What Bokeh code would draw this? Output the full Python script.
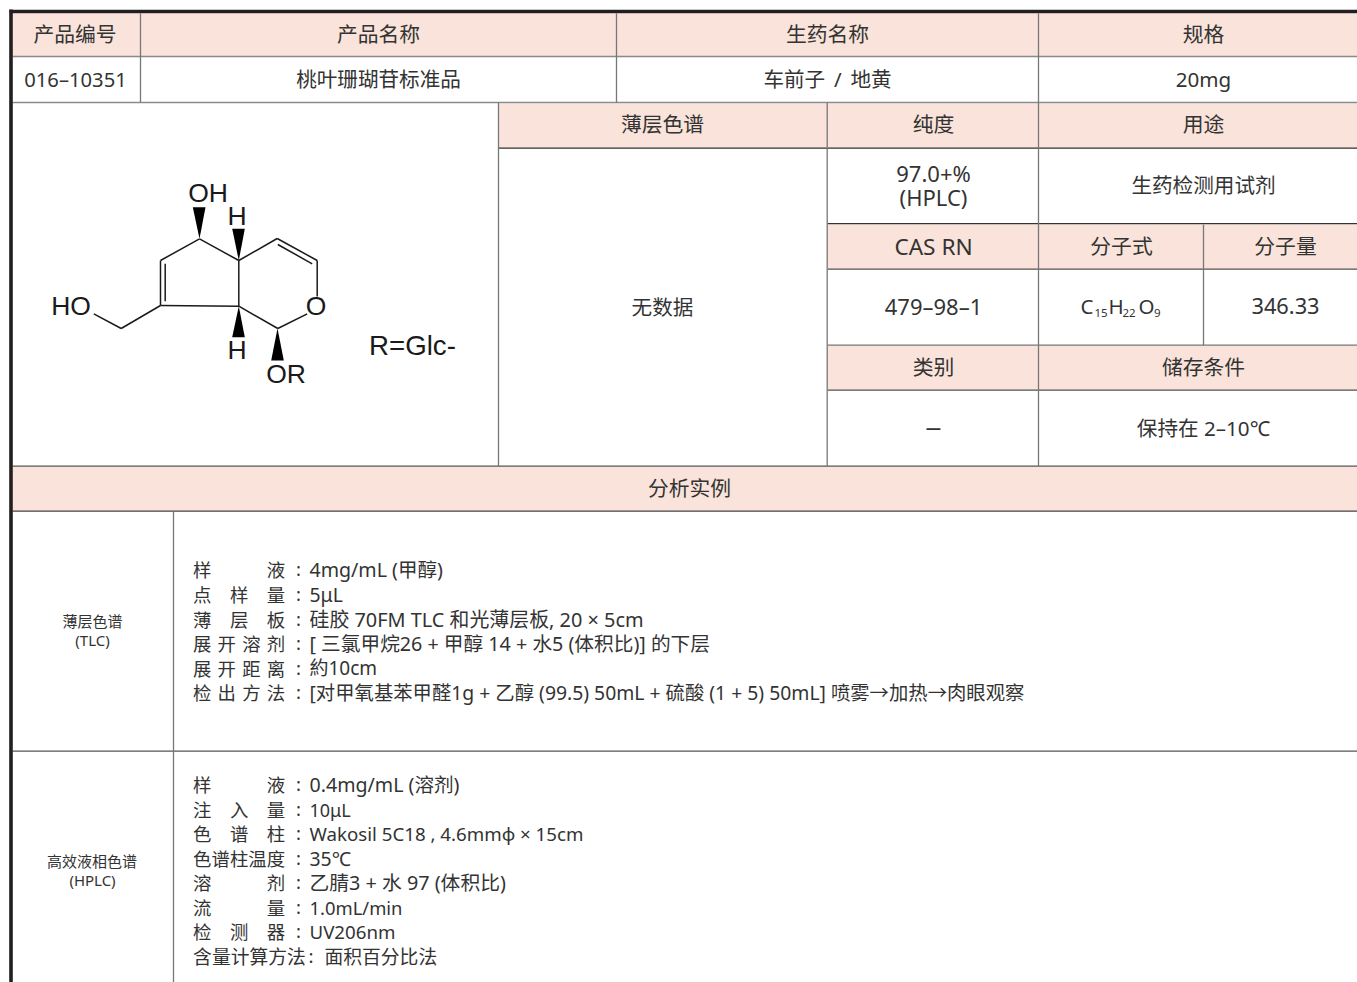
from bokeh.plotting import figure
from bokeh.models import Range1d
from bokeh.core.properties import value
from bokeh.embed import file_html
from bokeh.resources import INLINE

FONT = "'Noto Sans', 'Noto Sans CJK SC'"
SP = "\u2004"   # three-per-em
ID = "\u3000"

head_text = ["产品编号", "产品名称", "生药名称", "规格", "薄层色谱", "纯度", "用途", "CAS RN", "分子式", "分子量", "类别", "储存条件", "分析实例"]
head_x = [74.5, 378, 827, 1203, 662, 933, 1203, 933, 1121, 1285, 933, 1203, 689]
head_y = [33.7, 33.7, 33.7, 33.7, 123.7, 123.7, 123.7, 245.5, 245.7, 245.7, 366.7, 366.7, 487.7]
head_sizes = [20.8] * 7 + [22.6] + [20.8] * 5

cell_text = ["016–10351", "桃叶珊瑚苷标准品", "车前子\u2006 / \u2006地黄", "20mg", "97.0+%", "(HPLC)", "生药检测用试剂", "无数据", "479–98–1", "346.33", "保持在 2–10℃"]
cell_x = [75, 378, 827, 1203, 933, 933, 1203, 662, 933, 1285, 1203]
cell_y = [78.7, 78.7, 78.7, 78.5, 172, 196, 184.7, 306.7, 305.2, 305.2, 427.7]
cell_sizes = [20.2, 20.6, 20.6, 20.6, 22, 22, 20.6, 20.6, 22, 21.8, 20.6]
dash_text = ["–"]
dash_x = [933]
dash_y = [426.5]

side_text = ["薄层色谱", "(TLC)", "高效液相色谱", "(HPLC)"]
side_x = [92, 92, 91.5, 92]
side_y = [620.8, 639, 860.8, 879]

tlc_labels = ["样" + ID * 3 + "液", "点" + ID + "样" + ID + "量", "薄" + ID + "层" + ID + "板",
              SP.join("展开溶剂"), SP.join("展开距离"), SP.join("检出方法")]
tlc_values = ["4mg/mL (甲醇)", "5μL", "硅胶 70FM TLC 和光薄层板, 20 × 5cm",
              "[ 三氯甲烷26 + 甲醇 14 + 水5 (体积比)] 的下层", "約10cm",
              "[对甲氧基苯甲醛1g + 乙醇 (99.5) 50mL + 硫酸 (1 + 5) 50mL] 喷雾→加热→肉眼观察"]
tlc_y = [569, 594, 618.5, 643, 667.5, 692]

hplc_labels = ["样" + ID * 3 + "液", "注" + ID + "入" + ID + "量", "色" + ID + "谱" + ID + "柱", "色谱柱温度",
               "溶" + ID * 3 + "剂", "流" + ID * 3 + "量", "检" + ID + "测" + ID + "器"]
hplc_values = ["0.4mg/mL (溶剂)", "10μL", "Wakosil 5C18 , 4.6mmφ × 15cm", "35℃", "乙腈3 + 水 97 (体积比)", "1.0mL/min", "UV206nm"]
hplc_y = [784, 809, 833, 858, 882, 907, 931]
last_label = "含量计算方法"
last_value = "面积百分比法"
last_y = 956

value_sizes = [19.6, 19.4, 19.9, 19.7, 19.0, 19.35, 19.6, 18.0, 18.7, 19.4, 19.8, 18.4, 18.7]

# table geometry
fills = [(12, 1357, 13, 56), (498, 1357, 103, 148), (827, 1357, 224, 269), (827, 1357, 345, 390), (12, 1357, 466, 511)]
hlines = [(12, 1357, 56, "#8a8a8a"), (12, 1357, 102, "#8a8a8a"), (498, 1357, 147.7, "#333333"), (827, 1357, 223.2, "#333333"),
          (827, 1357, 268.7, "#555555"), (827, 1357, 344.7, "#777777"), (827, 1357, 389.7, "#555555"), (12, 1357, 465.7, "#555555"),
          (12, 1357, 510.7, "#444444"), (12, 1357, 750.7, "#555555")]
vlines = [(140, 13, 102), (616, 13, 102), (1038, 13, 102), (498, 102, 466), (826.7, 102, 466), (1038, 102, 466),
          (1203, 224, 345), (173, 511, 982)]

# molecule geometry
bond_x0 = [199, 199, 160, 164.7, 160, 238.3, 238.3, 276.7, 277.3, 316.7, 306.7, 238.3, 160, 120.7]
bond_y0 = [238.3, 238.3, 260, 263.3, 305, 260, 260, 238, 244, 260, 313.3, 305.7, 305, 328]
bond_x1 = [238.3, 160, 160, 164.7, 238.3, 238.3, 276.7, 316.7, 311.7, 316.7, 277.3, 277.3, 120.7, 93.3]
bond_y1 = [260, 260, 305, 300.7, 305.7, 305.7, 238, 260, 263.3, 296, 328, 328, 328, 313.3]
wedge_xs = [[199, 192.3, 205], [238.3, 231.7, 244.3], [238.3, 231.7, 244.3], [277, 270.7, 283.3]]
wedge_ys = [[238.3, 206.7, 206.7], [260, 228.3, 228.3], [305.7, 336.7, 336.7], [328, 360, 360]]
atom_text = ["OH", "H", "HO", "O", "H", "OR"]
atom_x = [207.5, 236.5, 70.5, 315.5, 236.5, 285.5]
atom_y = [192, 215, 305, 305, 349, 373]

p = figure(width=1357, height=982, x_range=Range1d(0, 1357), y_range=Range1d(982, 0),
           output_backend="svg", toolbar_location=None, min_border=0)
p.axis.visible = False
p.grid.visible = False
p.outline_line_color = None
p.background_fill_color = "white"
p.border_fill_color = "white"

p.quad(left=[f[0] for f in fills], right=[f[1] for f in fills], top=[f[2] for f in fills], bottom=[f[3] for f in fills],
       fill_color="#f9e3da", line_color=None)
p.segment(x0=[h[0] for h in hlines], x1=[h[1] for h in hlines], y0=[h[2] for h in hlines], y1=[h[2] for h in hlines],
          line_color=[h[3] for h in hlines], line_width=1.3)
p.segment(x0=[v[0] for v in vlines], x1=[v[0] for v in vlines], y0=[v[1] for v in vlines], y1=[v[2] for v in vlines],
          line_color="#777777", line_width=1.3)
p.segment(x0=[9, 10.5], x1=[1357, 10.5], y0=[11, 9], y1=[11, 982], line_color="#231f20", line_width=3.6)

def txt(t, x, y, size, color="#333333", align="center", font=FONT):
    size_spec = [f"{s}px" for s in size] if isinstance(size, list) else value(f"{size}px")
    p.text(x=x, y=y, text=t, text_font=value(font), text_font_size=size_spec, text_color=color,
           text_align=align, text_baseline="middle")

txt(head_text, head_x, head_y, head_sizes)
txt(cell_text, cell_x, cell_y, cell_sizes)
txt(dash_text, dash_x, dash_y, 25, font="Liberation Sans")
txt(side_text, side_x, side_y, 15)

label_x = 192.6
value_x = 309
all_labels = tlc_labels + hplc_labels
all_label_y = tlc_y + hplc_y
txt(all_labels, [label_x] * len(all_labels), all_label_y, 18.4, align="left")
txt([":"] * len(all_labels), [298] * len(all_labels), [y - 1 for y in all_label_y], 18.4)
all_values = tlc_values + hplc_values
txt(all_values, [value_x] * len(all_values), all_label_y, value_sizes, align="left")
txt([last_label, ":", last_value], [192.6, 308, 324], [last_y, last_y - 1, last_y], 18.8, align="left")

# formula with subscripts
txt(["C", "H", "O"], [1080, 1108, 1138], [305.5, 305.5, 305.5], 20.5, align="left")
txt(["15", "22", "9"], [1094, 1122, 1153.5], [312.5, 312.5, 312.5], 11.5, align="left")

# molecule
p.segment(x0=bond_x0, y0=bond_y0, x1=bond_x1, y1=bond_y1, line_color="#1a1a1a", line_width=1.5)
p.patches(xs=wedge_xs, ys=wedge_ys, fill_color="#000000", line_color=None)
txt(atom_text, atom_x, atom_y, 26.5, color="#1a1a1a", font="Liberation Sans")
txt(["R=Glc-"], [368.5], [345], 27.7, color="#1a1a1a", align="left", font="Liberation Sans")

open("out.html", "w").write(file_html(p, INLINE))
